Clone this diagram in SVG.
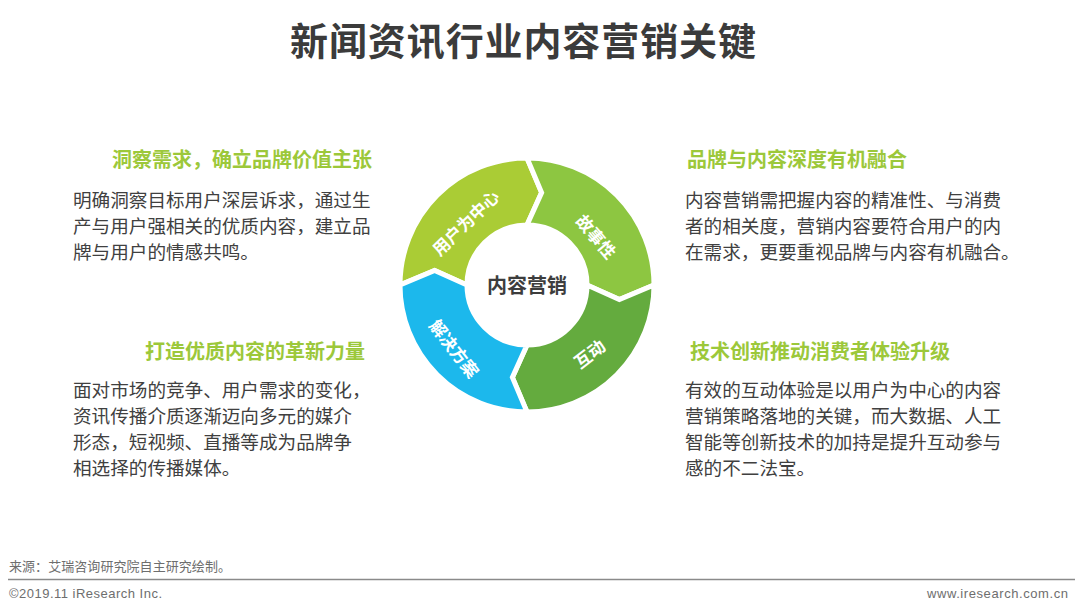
<svg xmlns="http://www.w3.org/2000/svg" width="1080" height="611" viewBox="0 0 1080 611">
<style>
.cn{font-family:"Noto Sans CJK SC","Liberation Sans",sans-serif}
.title{font-size:38px;font-weight:700;fill:#3b3b3b}
.head{font-size:20px;font-weight:700;fill:#9cc83a}
.body{font-size:18.6px;fill:#404040}
.seg{stroke:#fff;stroke-width:5;stroke-linejoin:miter}
.lbl{font-size:17px;font-weight:700;fill:#fff;text-anchor:middle;dominant-baseline:central}
.foot{font-size:13px;fill:#6e6e6e}
</style>
<rect width="1080" height="611" fill="#fff"/>
<text class="cn title" x="290" y="55" textLength="466">新闻资讯行业内容营销关键</text>

<g id="ring">
<g id="seg-user">
<path class="seg" fill="#aacc35" d="M400,285 A127,127 0 0 1 527,158 L541.63,192.65 L527,225 A60,60 0 0 0 467,285 L434.65,270.37 Z"/>
<text class="cn lbl" transform="translate(465,222) rotate(-44)">用户为中心</text>
</g>
<g id="seg-story">
<path class="seg" fill="#8dc641" d="M527,158 A127,127 0 0 1 654,285 L619.35,299.63 L587,285 A60,60 0 0 0 527,225 L541.63,192.65 Z"/>
<text class="cn lbl" transform="translate(597,236) rotate(50)">故事性</text>
</g>
<g id="seg-interact">
<path class="seg" fill="#64ab3e" d="M654,285 A127,127 0 0 1 527,412 L512.37,377.35 L527,345 A60,60 0 0 0 587,285 L619.35,299.63 Z"/>
<text class="cn lbl" transform="translate(589,353) rotate(-38)">互动</text>
</g>
<g id="seg-solution">
<path class="seg" fill="#1cb8ec" d="M527,412 A127,127 0 0 1 400,285 L434.65,270.37 L467,285 A60,60 0 0 0 527,345 L512.37,377.35 Z"/>
<text class="cn lbl" transform="translate(455,348) rotate(52)">解决方案</text>
</g>
<g id="center">
<text class="cn" x="527" y="284" font-size="20" font-weight="700" fill="#3d3d3d" text-anchor="middle" dominant-baseline="central">内容营销</text>
</g>
</g>

<g id="block-tl">
<text class="cn head" x="372" y="167" text-anchor="end">洞察需求，确立品牌价值主张</text>
<text class="cn body" x="73" y="207">明确洞察目标用户深层诉求，通过生</text>
<text class="cn body" x="73" y="233">产与用户强相关的优质内容，建立品</text>
<text class="cn body" x="73" y="259">牌与用户的情感共鸣。</text>
</g>
<g id="block-tr">
<text class="cn head" x="687" y="167">品牌与内容深度有机融合</text>
<text class="cn body" x="685" y="207">内容营销需把握内容的精准性、与消费</text>
<text class="cn body" x="685" y="233">者的相关度，营销内容要符合用户的内</text>
<text class="cn body" x="685" y="259">在需求，更要重视品牌与内容有机融合。</text>
</g>
<g id="block-bl">
<text class="cn head" x="365" y="359" text-anchor="end">打造优质内容的革新力量</text>
<text class="cn body" x="73" y="397">面对市场的竞争、用户需求的变化，</text>
<text class="cn body" x="73" y="423">资讯传播介质逐渐迈向多元的媒介</text>
<text class="cn body" x="73" y="449">形态，短视频、直播等成为品牌争</text>
<text class="cn body" x="73" y="475">相选择的传播媒体。</text>
</g>
<g id="block-br">
<text class="cn head" x="690" y="359">技术创新推动消费者体验升级</text>
<text class="cn body" x="685" y="397">有效的互动体验是以用户为中心的内容</text>
<text class="cn body" x="685" y="423">营销策略落地的关键，而大数据、人工</text>
<text class="cn body" x="685" y="449">智能等创新技术的加持是提升互动参与</text>
<text class="cn body" x="685" y="475">感的不二法宝。</text>
</g>

<g id="footer">
<text class="cn foot" x="9" y="571" textLength="222">来源：艾瑞咨询研究院自主研究绘制。</text>
<line x1="8" y1="579.5" x2="1075" y2="579.5" stroke="#8a8a8a" stroke-width="1.5"/>
<text class="foot" x="9" y="598" font-family="Liberation Sans, sans-serif" textLength="153">©2019.11 iResearch Inc.</text>
<text class="foot" x="927" y="598" font-family="Liberation Sans, sans-serif" textLength="141">www.iresearch.com.cn</text>
</g>
</svg>
